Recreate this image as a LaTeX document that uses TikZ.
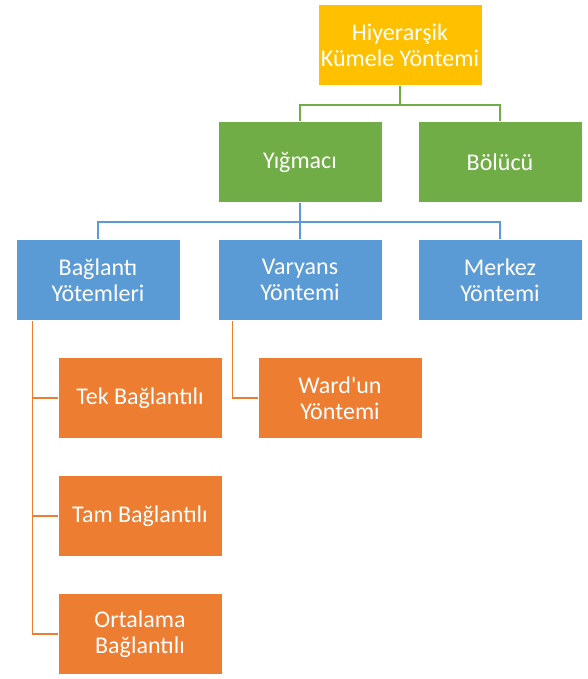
\documentclass[tikz,border=0pt]{standalone}
\usepackage{fontspec}
\setmainfont{Carlito}
\usetikzlibrary{positioning}
\definecolor{TopYellow}{HTML}{FFC000}
\definecolor{LeafGreen}{HTML}{70AD47}
\definecolor{MidBlue}{HTML}{5B9BD5}
\definecolor{LowOrange}{HTML}{ED7D31}

\tikzset{
    box/.style={draw=white, line width=0.8pt, text=white, minimum width=164pt,
                minimum height=81pt, align=center, inner sep=2pt,
                font=\fontsize{24}{26}\selectfont},
    link/.style={line width=1.6pt}
}

\begin{document}
\begin{tikzpicture}[x=1pt, y=-1pt]
    \useasboundingbox (0,0) rectangle (587,679);

    % top level
    \node[box, fill=TopYellow] (hkt) at (400,45) {Hiyerarşik\\Kümele Yöntemi};

    % second level
    \node[box, fill=LeafGreen] (yigmaci) at (300,162) {Yığmacı};
    \node[box, fill=LeafGreen] (bolucu) at (500,162) {Bölücü};

    % third level
    \node[box, fill=MidBlue] (baglanti) at (98,280) {Bağlantı\\Yötemleri};
    \node[box, fill=MidBlue] (varyans) at (300,280) {Varyans\\Yöntemi};
    \node[box, fill=MidBlue] (merkez) at (500,280) {Merkez\\Yöntemi};

    % leaves
    \node[box, fill=LowOrange] (tek) at (140,398) {Tek Bağlantılı};
    \node[box, fill=LowOrange] (tam) at (140,516) {Tam Bağlantılı};
    \node[box, fill=LowOrange] (ortalama) at (140,634) {Ortalama\\Bağlantılı};
    \node[box, fill=LowOrange] (ward) at (340,398) {Ward\textquotesingle un\\Yöntemi};

    % connectors
    \coordinate (hktfork) at ([yshift=-19pt]hkt.south);
    \draw[link, LeafGreen] (hkt.south) -- (hktfork);
    \draw[link, LeafGreen] (hktfork) -| (yigmaci.north);
    \draw[link, LeafGreen] (hktfork) -| (bolucu.north);

    \coordinate (yigfork) at ([yshift=-19pt]yigmaci.south);
    \draw[link, MidBlue] (yigmaci.south) -- (yigfork);
    \draw[link, MidBlue] (yigfork) -| (baglanti.north);
    \draw[link, MidBlue] (yigfork) -| (varyans.north);
    \draw[link, MidBlue] (yigfork) -| (merkez.north);

    \coordinate (bagroot) at ([xshift=17pt]baglanti.south west);
    \draw[link, LowOrange] (bagroot) |- (tek.west);
    \draw[link, LowOrange] (bagroot) |- (tam.west);
    \draw[link, LowOrange] (bagroot) |- (ortalama.west);

    \coordinate (varroot) at ([xshift=15pt]varyans.south west);
    \draw[link, LowOrange] (varroot) |- (ward.west);
\end{tikzpicture}
\end{document}
